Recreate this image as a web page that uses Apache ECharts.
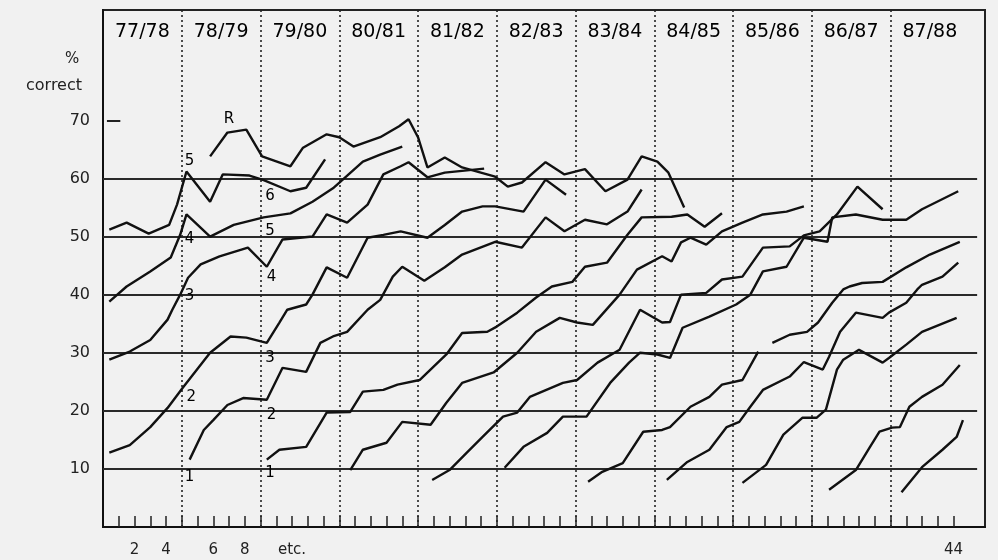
<!DOCTYPE html>
<html>
<head>
<meta charset="utf-8">
<script src="https://cdn.jsdelivr.net/npm/echarts@6/dist/echarts.min.js"></script>
<style>
html, body { margin: 0; padding: 0; background: #f1f1f1; }
#chart { width: 998px; height: 560px; }
</style>
</head>
<body>
<div id="chart"></div>
<script>
// x is counted in test slots: 4 tests per school year plus 1 slot at each year boundary
var years = ['77/78', '78/79', '79/80', '80/81', '81/82', '82/83', '83/84', '84/85', '85/86', '86/87', '87/88'];
var yearCentres = [2.5, 7.5, 12.5, 17.5, 22.5, 27.5, 32.5, 37.5, 42.5, 47.5, 52.5];
var yearBounds = [5, 10, 15, 20, 25, 30, 35, 40, 45, 50];
var tickLabelSlots = [2, 4, 7, 9, 12, 54];
var tickLabels = ['2', '4', '6', '8', 'etc.', '44'];
var yLabels = [10, 20, 30, 40, 50, 60, 70];
var levelLines = [10, 20, 30, 40, 50, 60];

// each cohort: [slot, % correct]
var cohortA = [[0.4,51.2],[1.5,52.4],[2.9,50.5],[4.2,52],[4.7,55.5],[5.3,61.2],[6.8,56.0],[7.6,60.7],[9.3,60.5],[10.2,59.7],[11.9,57.8],[12.9,58.4],[14.1,63.3]];
var cohortB = [[0.4,38.8],[1.5,41.4],[3.0,44.0],[4.3,46.4],[4.9,50.3],[5.3,53.8],[6.8,50.0],[8.3,52.0],[10.2,53.3],[11.9,54.0],[13.3,56.0],[14.6,58.3],[16.5,62.9],[17.6,64.1],[19.0,65.5]];
var cohortC = [[0.4,28.8],[1.7,30.2],[3.0,32.2],[4.1,35.7],[4.4,37.4],[4.9,40.0],[5.4,42.9],[6.2,45.2],[7.4,46.6],[9.2,48.1],[10.4,44.8],[11.4,49.5],[13.3,50.0],[14.2,53.8],[15.5,52.4],[16.8,55.5],[17.8,60.7],[18.9,62.1],[19.4,62.8],[20.6,60.2],[21.7,61.0],[24.2,61.7]];
var cohortD = [[0.4,12.8],[1.7,14.1],[3.0,17.2],[4.1,20.5],[5.1,24.1],[6.8,30.0],[8.1,32.8],[9.1,32.6],[10.4,31.7],[11.2,35.2],[11.7,37.4],[12.9,38.3],[13.3,40.0],[14.2,44.7],[15.5,42.9],[16.8,49.8],[17.8,50.3],[18.9,50.9],[20.6,49.8],[21.7,52.0],[22.8,54.3],[24.1,55.2],[24.9,55.2],[26.7,54.3],[28.1,59.8],[29.4,57.2]];
var cohortE = [[5.5,11.6],[6.4,16.7],[7.0,18.4],[7.9,21.0],[8.9,22.2],[10.4,21.9],[10.8,24.1],[11.4,27.4],[12.9,26.7],[13.8,31.7],[14.6,32.8],[15.5,33.6],[16.8,37.4],[17.6,39.1],[18.4,43.1],[19.0,44.8],[20.4,42.4],[21.7,44.7],[22.8,46.9],[24.9,49.1],[26.6,48.1],[28.1,53.3],[29.3,50.9],[30.6,52.9],[32.0,52.1],[33.3,54.3],[34.2,58.1]];
var cohortF = [[10.4,11.6],[11.2,13.3],[12.9,13.8],[14.2,19.7],[15.7,19.8],[16.5,23.3],[17.8,23.6],[18.7,24.5],[20.1,25.3],[21.8,29.7],[22.8,33.4],[24.4,33.6],[25.0,34.5],[26.3,36.9],[27.5,39.5],[28.5,41.4],[29.8,42.2],[30.6,44.8],[32.0,45.5],[33.3,50.3],[34.2,53.3],[36.1,53.4],[37.1,53.8],[38.2,51.7],[39.3,54.0]];
var cohortG = [[15.7,9.8],[16.5,13.3],[18.0,14.5],[19.0,18.1],[20.8,17.6],[21.8,21.4],[22.8,24.8],[24.8,26.6],[26.3,30.0],[27.5,33.6],[29.0,36.0],[30.1,35.2],[31.1,34.8],[32.8,40.0],[33.9,44.3],[35.5,46.6],[36.1,45.7],[36.7,49.0],[37.3,49.8],[38.3,48.6],[39.3,50.9],[40.6,52.4],[41.9,53.8],[43.4,54.3],[44.5,55.2]];
var cohortH = [[20.9,8.1],[22.0,9.8],[23.1,12.8],[24.1,15.5],[25.4,19.0],[26.3,19.7],[27.1,22.4],[29.2,24.8],[30.1,25.3],[31.4,28.3],[32.8,30.5],[34.1,37.4],[35.5,35.2],[36.0,35.3],[36.7,40.0],[38.3,40.3],[39.3,42.6],[40.6,43.1],[41.9,48.1],[43.6,48.3],[44.5,50.2],[45.5,50.9],[46.6,53.8],[47.9,58.6],[49.5,54.7]];
var cohortI = [[25.5,10.2],[26.7,13.8],[28.2,16.2],[29.2,19.0],[30.7,19.0],[32.2,24.8],[33.4,28.3],[34.1,30.0],[35.2,29.7],[36.0,29.1],[36.8,34.3],[38.5,36.2],[40.2,38.3],[41.1,40.0],[41.9,44.0],[43.4,44.8],[44.5,49.8],[46.0,49.1],[46.3,53.3],[47.8,53.8],[49.5,52.9],[51.0,52.9],[52.0,54.7],[54.3,57.8]];
var cohortJ1 = [[30.8,7.8],[31.7,9.5],[33.0,11.0],[34.3,16.4],[35.5,16.7],[36.0,17.2],[37.3,20.7],[38.5,22.4],[39.3,24.5],[40.6,25.3],[41.6,30.2]];
var cohortJ2 = [[42.5,31.7],[43.6,33.1],[44.7,33.6],[45.4,35.2],[46.3,38.6],[47.0,40.9],[47.4,41.4],[48.2,42.0],[49.5,42.2],[51.0,44.7],[52.5,46.9],[54.4,49.1]];
var cohortK = [[35.8,8.1],[37.1,11.2],[38.5,13.3],[39.6,17.2],[40.4,18.1],[41.1,20.7],[41.9,23.6],[43.6,25.9],[44.5,28.4],[45.7,27.1],[46.1,29.3],[46.8,33.6],[47.8,36.9],[49.5,36.0],[49.9,36.9],[51.0,38.6],[51.7,40.9],[52.0,41.7],[53.3,43.1],[54.3,45.5]];
var cohortL = [[40.6,7.6],[42.1,10.7],[43.2,15.9],[44.4,18.8],[45.3,18.8],[45.9,20.2],[46.6,27.1],[47.0,28.8],[48.0,30.5],[49.5,28.3],[49.9,29.1],[51.0,31.4],[52.0,33.6],[54.2,36.0]];
var cohortM = [[46.1,6.4],[47.8,9.8],[48.7,13.8],[49.3,16.4],[50.1,17.1],[50.6,17.2],[51.2,20.7],[52.0,22.4],[53.3,24.5],[54.4,27.9]];
var cohortN = [[50.7,6.0],[52.0,10.3],[53.3,13.3],[54.2,15.5],[54.6,18.4]];
var cohortR = [[6.8,63.8],[7.9,67.9],[9.1,68.4],[10.1,63.8],[11.9,62.1],[12.7,65.3],[14.2,67.6],[15.0,67.1],[15.9,65.5],[17.6,67.1],[18.8,69.0],[19.4,70.2],[20.0,67.1],[20.6,61.9],[21.7,63.6],[22.8,61.9],[24.9,60.3],[25.7,58.6],[26.6,59.3],[28.1,62.8],[29.3,60.7],[30.6,61.6],[31.9,57.8],[33.3,59.8],[34.2,63.8],[35.2,62.9],[35.9,61.0],[36.9,55.0]];

// grade numbers written beside the lines
var gradeNotes = [
    ['R', 8.0, 70.3], ['5', 5.5, 63.0], ['4', 5.5, 49.5], ['3', 5.5, 39.7], ['2', 5.6, 22.4], ['1', 5.5, 8.6],
    ['6', 10.6, 56.9], ['5', 10.6, 50.9], ['4', 10.7, 43.1], ['3', 10.6, 29.1], ['2', 10.7, 19.3], ['1', 10.6, 9.3]
];

var cohorts = [cohortA, cohortB, cohortC, cohortD, cohortE, cohortF, cohortG, cohortH, cohortI,
               cohortJ1, cohortJ2, cohortK, cohortL, cohortM, cohortN, cohortR];

var chart = echarts.init(document.getElementById('chart'));

var series = cohorts.map(function (d) {
    return {
        type: 'line',
        data: d,
        showSymbol: false,
        silent: true,
        lineStyle: { color: '#111', width: 2.4 },
        z: 5
    };
});

// helper lines: level lines, year boundaries, short mark at 70
var marks = [];
levelLines.forEach(function (v) {
    marks.push([{ coord: [0, v], lineStyle: { type: 'solid', color: '#2a2a2a', width: 1.8 } }, { coord: [55.5, v] }]);
});
yearBounds.forEach(function (b) {
    marks.push([{ coord: [b, 0], lineStyle: { type: [2, 3], color: '#222', width: 1.6 } }, { coord: [b, 89] }]);
});
marks.push([{ coord: [0.25, 70], lineStyle: { type: 'solid', color: '#222', width: 2 } }, { coord: [1.1, 70] }]);

series.push({
    type: 'scatter',
    data: gradeNotes.map(function (n) { return { name: n[0], value: [n[1], n[2]] }; }),
    symbolSize: 0,
    silent: true,
    itemStyle: { opacity: 1 },
    label: {
        show: true,
        position: 'inside',
        formatter: '{b}',
        color: '#000',
        opacity: 1,
        fontFamily: 'DejaVu Sans',
        fontSize: 15
    },
    markLine: {
        silent: true,
        symbol: ['none', 'none'],
        label: { show: false },
        data: marks
    },
    z: 6
});

var option = {
    backgroundColor: '#f1f1f1',
    animation: false,
    grid: {
        left: 103, right: 13, top: 10, bottom: 33,
        show: true, borderColor: '#222', borderWidth: 2
    },
    xAxis: [{
        type: 'value', min: 0, max: 56, position: 'bottom',
        axisLine: { lineStyle: { color: '#111', width: 2 } },
        splitLine: { show: false },
        axisTick: {
            show: true, inside: true, length: 11,
            customValues: (function () { var t = []; for (var i = 1; i <= 54; i++) t.push(i); return t; })(),
            lineStyle: { color: '#222', width: 1.5 }
        },
        axisLabel: {
            customValues: tickLabelSlots,
            margin: 16,
            color: '#222',
            fontFamily: 'DejaVu Sans',
            fontSize: 15,
            formatter: function (v) {
                var i = tickLabelSlots.indexOf(v);
                return i >= 0 ? tickLabels[i] : '';
            }
        }
    }, {
        type: 'value', min: 0, max: 56, position: 'top',
        axisLine: { show: false },
        axisTick: { show: false },
        splitLine: { show: false },
        axisLabel: {
            inside: true,
            customValues: yearCentres,
            margin: 13,
            color: '#000',
            fontFamily: 'DejaVu Sans',
            fontSize: 19,
            formatter: function (v) {
                var i = yearCentres.indexOf(v);
                return i >= 0 ? years[i] : '';
            }
        }
    }],
    yAxis: {
        type: 'value', min: 0, max: 89,
        axisLine: { show: true, lineStyle: { color: '#111', width: 2 } },
        axisTick: { show: false },
        splitLine: { show: false },
        axisLabel: {
            customValues: yLabels,
            margin: 13,
            color: '#222',
            fontFamily: 'DejaVu Sans',
            fontSize: 16
        }
    },
    graphic: [
        { type: 'text', left: 65, top: 52, style: { text: '%', fontFamily: 'DejaVu Sans', fontSize: 15, fill: '#222' } },
        { type: 'text', left: 26, top: 78, style: { text: 'correct', fontFamily: 'DejaVu Sans', fontSize: 16, fill: '#222' } }
    ],
    series: series
};

chart.setOption(option);
</script>
</body>
</html>
